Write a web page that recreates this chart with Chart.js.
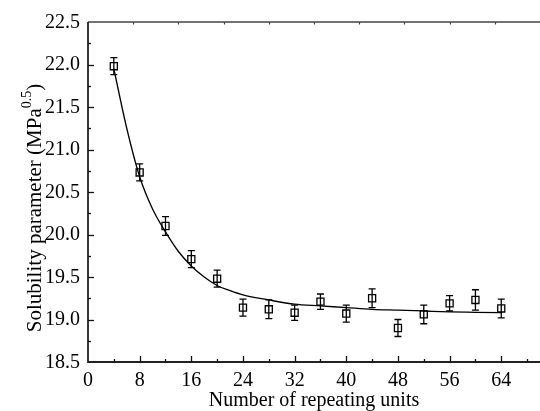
<!DOCTYPE html>
<html>
<head>
<meta charset="utf-8">
<script src="https://cdn.jsdelivr.net/npm/chart.js@4/dist/chart.umd.min.js"></script>
<style>
  html, body { margin: 0; padding: 0; background: #fff; }
  #wrap { width: 540px; height: 411px; position: relative; }
</style>
</head>
<body>
<div id="wrap"><canvas id="c"></canvas></div>
<script>
// ---- data ----
const units = [4, 8, 12, 16, 20, 24, 28, 32, 36, 40, 44, 48, 52, 56, 60, 64];
const solubility = [21.98, 20.73, 20.10, 19.71, 19.48, 19.14, 19.12, 19.08, 19.21, 19.07, 19.25, 18.90, 19.06, 19.19, 19.23, 19.13];
const errors = [0.10, 0.10, 0.11, 0.10, 0.10, 0.10, 0.11, 0.09, 0.09, 0.10, 0.11, 0.10, 0.11, 0.09, 0.12, 0.11];
const fitUnits = [4, 6, 8, 10, 12, 14, 16, 18, 20, 22, 24, 28, 32, 36, 40, 44, 48, 52, 56, 60, 64];
const fitValues = [21.95, 21.25, 20.68, 20.30, 20.03, 19.80, 19.63, 19.50, 19.40, 19.34, 19.29, 19.23, 19.18, 19.16, 19.14, 19.12, 19.11, 19.10, 19.09, 19.085, 19.08];
const xTicks = [0, 8, 16, 24, 32, 40, 48, 56, 64];
const yTicks = [18.5, 19.0, 19.5, 20.0, 20.5, 21.0, 21.5, 22.0, 22.5];
const xTitle = 'Number of repeating units';
const yTitleMain = 'Solubility parameter (MPa';
const yTitleSup = '0.5';
const yTitleEnd = ')';

const FONT = '"Liberation Serif", "Times New Roman", serif';
Chart.defaults.font.family = FONT;
Chart.defaults.font.size = 20;
Chart.defaults.color = '#000';

const framePlugin = {
  id: 'frame',
  afterDatasetDraw(chart, args) {
    if (args.index !== 0) return;
    // error bars (drawn under the square markers)
    const xs = chart.scales.x, ys = chart.scales.y;
    const ctx = chart.ctx;
    ctx.save();
    ctx.strokeStyle = '#000';
    ctx.lineWidth = 1.3;
    units.forEach((u, i) => {
      const px = xs.getPixelForValue(u);
      const pTop = ys.getPixelForValue(solubility[i] + errors[i]);
      const pBot = ys.getPixelForValue(solubility[i] - errors[i]);
      ctx.beginPath();
      ctx.moveTo(px, pTop); ctx.lineTo(px, pBot);
      ctx.moveTo(px - 3.5, pTop); ctx.lineTo(px + 3.5, pTop);
      ctx.moveTo(px - 3.5, pBot); ctx.lineTo(px + 3.5, pBot);
      ctx.stroke();
    });
    ctx.restore();
  },
  afterDraw(chart) {
    const ctx = chart.ctx;
    const xs = chart.scales.x, ys = chart.scales.y;
    const a = chart.chartArea;
    ctx.save();
    // top frame line
    ctx.strokeStyle = '#444';
    ctx.lineWidth = 1.5;
    ctx.beginPath(); ctx.moveTo(a.left, a.top); ctx.lineTo(a.right, a.top); ctx.stroke();
    // top small ticks (10 divisions)
    ctx.lineWidth = 1.2;
    for (let v = 7; v < 70; v += 7) {
      const px = Math.round(xs.getPixelForValue(v)) + 0.5;
      ctx.beginPath(); ctx.moveTo(px, a.top); ctx.lineTo(px, a.top + 2.5); ctx.stroke();
    }
    // left & bottom axes
    ctx.strokeStyle = '#222';
    ctx.lineWidth = 1.8;
    ctx.beginPath();
    ctx.moveTo(a.left, a.top); ctx.lineTo(a.left, a.bottom); ctx.lineTo(a.right, a.bottom);
    ctx.stroke();
    // ticks inward
    ctx.lineWidth = 1.3;
    ctx.strokeStyle = '#111';
    for (let v = 4; v < 70; v += 4) {
      const px = Math.round(xs.getPixelForValue(v)) + 0.5;
      const len = (v % 8 === 0) ? 6 : 3;
      ctx.beginPath(); ctx.moveTo(px, a.bottom); ctx.lineTo(px, a.bottom - len); ctx.stroke();
    }
    for (let k = 1; k < 16; k++) {
      const v = 18.5 + k * 0.25;
      const py = Math.round(ys.getPixelForValue(v)) + 0.5;
      const len = (k % 2 === 0) ? 6 : 3;
      ctx.beginPath(); ctx.moveTo(a.left, py); ctx.lineTo(a.left + len, py); ctx.stroke();
    }
    // tick labels
    ctx.fillStyle = '#000';
    ctx.font = '20px ' + FONT;
    ctx.textAlign = 'center';
    ctx.textBaseline = 'alphabetic';
    xTicks.forEach(v => ctx.fillText(String(v), xs.getPixelForValue(v), 385.5));
    ctx.textAlign = 'right';
    ctx.textBaseline = 'middle';
    yTicks.forEach(v => ctx.fillText(v.toFixed(1), a.left - 8, ys.getPixelForValue(v) + 0.5));
    // x title
    ctx.textAlign = 'center';
    ctx.textBaseline = 'alphabetic';
    ctx.fillText(xTitle, (a.left + a.right) / 2, 406);
    // y title with superscript
    ctx.translate(41, 208);
    ctx.rotate(-Math.PI / 2);
    ctx.textAlign = 'left';
    const mainFont = '21px ' + FONT;
    const supFont = '14px ' + FONT;
    ctx.font = mainFont;
    const w1 = ctx.measureText(yTitleMain).width;
    const w3 = ctx.measureText(yTitleEnd).width;
    ctx.font = supFont;
    const w2 = ctx.measureText(yTitleSup).width;
    let x0 = -(w1 + w2 + w3) / 2;
    ctx.font = mainFont;
    ctx.fillText(yTitleMain, x0, 0);
    ctx.font = supFont;
    ctx.fillText(yTitleSup, x0 + w1, -10);
    ctx.font = mainFont;
    ctx.fillText(yTitleEnd, x0 + w1 + w2, 0);
    ctx.restore();
  }
};

new Chart(document.getElementById('c'), {
  type: 'scatter',
  data: {
    datasets: [
      {
        type: 'line',
        data: fitUnits.map((u, i) => ({ x: u, y: fitValues[i] })),
        borderColor: '#000',
        borderWidth: 1.3,
        pointRadius: 0,
        fill: false,
        cubicInterpolationMode: 'monotone',
        clip: false
      },
      {
        data: units.map((u, i) => ({ x: u, y: solubility[i] })),
        pointStyle: 'rect',
        pointRadius: 5,
        pointHoverRadius: 5,
        pointBorderWidth: 1.3,
        borderColor: '#000',
        backgroundColor: '#fff',
        showLine: false,
        clip: false
      }
    ]
  },
  options: {
    responsive: true,
    maintainAspectRatio: false,
    animation: false,
    events: [],
    layout: { autoPadding: false, padding: { top: 22, right: 0, left: 0, bottom: 0 } },
    plugins: { legend: { display: false }, tooltip: { enabled: false }, title: { display: false } },
    scales: {
      x: {
        type: 'linear',
        min: 0, max: 70,
        grid: { display: false, drawTicks: false },
        border: { display: false },
        afterBuildTicks: (s) => { s.ticks = xTicks.map(v => ({ value: v })); },
        afterFit: (s) => { s.height = 49; s.paddingLeft = 0; s.paddingRight = 0; },
        ticks: { display: false }
      },
      y: {
        type: 'linear',
        min: 18.5, max: 22.5,
        grid: { display: false, drawTicks: false },
        border: { display: false },
        afterBuildTicks: (s) => { s.ticks = yTicks.map(v => ({ value: v })); },
        afterFit: (s) => { s.width = 88; s.paddingTop = 0; s.paddingBottom = 0; },
        ticks: { display: false }
      }
    }
  },
  plugins: [framePlugin]
});
</script>
</body>
</html>
